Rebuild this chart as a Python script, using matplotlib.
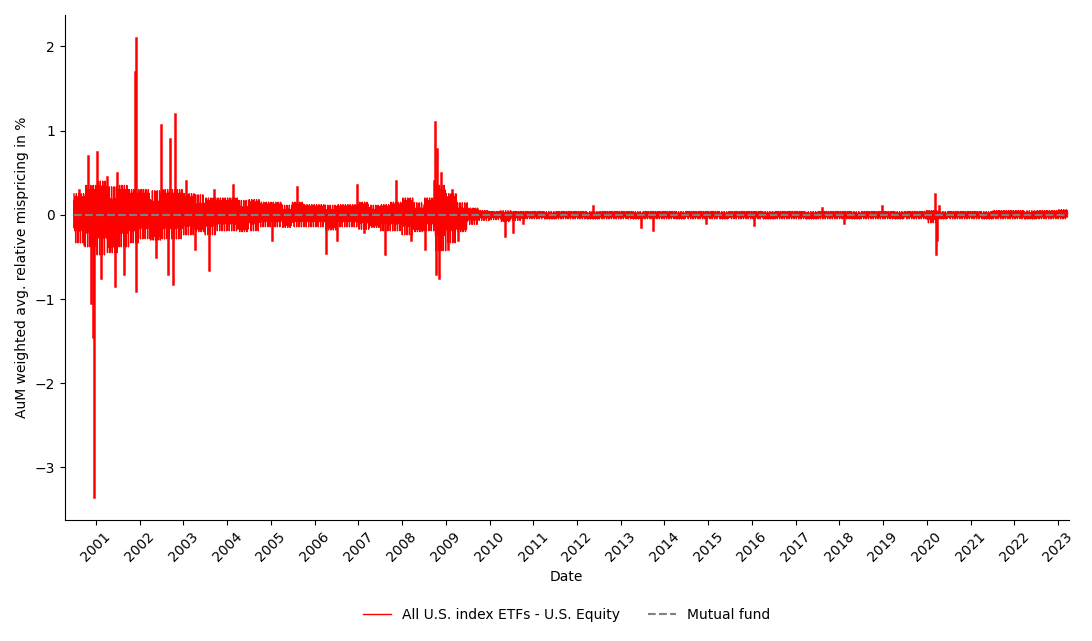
import numpy as np
import pandas as pd
from matplotlib import pyplot as plt
import matplotlib.dates as mdates

# typical quarterly band (upper / lower), 2000Q3 .. 2023Q1
band_hi = [0.25, 0.35,
           0.4, 0.35, 0.35, 0.3,
           0.3, 0.3, 0.3, 0.3,
           0.25, 0.25, 0.2, 0.2,
           0.2, 0.18, 0.18, 0.15,
           0.15, 0.12, 0.15, 0.12,
           0.12, 0.12, 0.12, 0.12,
           0.15, 0.12, 0.12, 0.15,
           0.2, 0.15, 0.2, 0.35,
           0.25, 0.15, 0.08, 0.05,
           0.04, 0.05, 0.04, 0.04] + [0.04] * 36 + [0.05, 0.04, 0.04, 0.04,
           0.04, 0.04, 0.05, 0.05,
           0.05, 0.05, 0.05, 0.05,
           0.06]
band_lo = [-0.35, -0.4,
           -0.5, -0.45, -0.4, -0.35,
           -0.3, -0.3, -0.3, -0.3,
           -0.25, -0.2, -0.25, -0.2,
           -0.2, -0.2, -0.2, -0.15,
           -0.15, -0.15, -0.15, -0.15,
           -0.15, -0.18, -0.15, -0.15,
           -0.18, -0.15, -0.2, -0.2,
           -0.25, -0.2, -0.2, -0.45,
           -0.35, -0.2, -0.12, -0.07,
           -0.06, -0.08, -0.07, -0.05] + [-0.05] * 36 + [-0.1, -0.05, -0.05, -0.05,
           -0.05, -0.05, -0.05, -0.05,
           -0.05, -0.05, -0.05, -0.05,
           -0.05]

# individual spikes (date, value in %)
spike_dates = ['2000-08-10', '2000-09-20', '2000-10-25', '2000-11-20', '2000-12-05', '2000-12-12',
               '2001-01-10', '2001-02-15', '2001-04-05', '2001-06-10', '2001-06-25',
               '2001-08-20', '2001-11-20', '2001-11-28', '2001-12-03', '2002-01-10',
               '2002-05-20', '2002-06-25', '2002-08-25', '2002-09-15', '2002-10-05',
               '2002-10-20', '2003-01-20', '2003-04-10', '2003-08-05', '2003-09-10',
               '2004-02-15', '2005-01-10', '2005-08-10', '2006-04-05', '2006-07-10',
               '2006-12-20', '2007-02-20', '2007-08-15', '2007-11-10', '2008-03-15',
               '2008-07-15', '2008-09-20', '2008-09-29', '2008-10-08', '2008-10-20',
               '2008-11-05', '2008-11-25', '2009-01-15', '2009-02-20', '2009-04-10',
               '2010-05-07', '2010-07-15', '2010-10-10', '2012-05-10', '2013-06-20',
               '2013-09-25', '2014-12-10', '2016-01-20', '2017-08-10', '2018-02-06',
               '2018-12-20', '2020-03-10', '2020-03-16', '2020-03-24', '2020-04-15']
spike_vals = [0.3, -0.35, 0.7, -1.05, -1.45, -3.35,
              0.75, -0.75, 0.45, -0.85, 0.5,
              -0.7, 1.7, 2.1, -0.9, 0.3,
              -0.5, 1.07, -0.7, 0.9, -0.82,
              1.2, 0.4, -0.4, -0.65, 0.3,
              0.35, -0.3, 0.33, -0.45, -0.3,
              0.35, -0.2, -0.47, 0.4, -0.3,
              -0.4, 0.4, 1.1, -0.7, 0.78,
              -0.75, 0.5, -0.4, 0.3, -0.3,
              -0.25, -0.2, -0.1, 0.1, -0.15,
              -0.18, -0.1, -0.12, 0.08, -0.1,
              0.1, 0.25, -0.47, -0.3, 0.1]

starts = pd.date_range('2000-07-01', periods=len(band_hi), freq='QS')
ends = list(starts[1:]) + [pd.Timestamp('2023-03-25')]
pattern = [1.0, 0.45, 0.7, 0.3, 0.85, 0.55, 0.4, 0.95, 0.6, 0.35]

fig, ax = plt.subplots(figsize=(10.92, 6.41), dpi=100)
# dense band as a zigzag inside each quarter's envelope
zx, zy = [], []
k = 0
for s, e, h, l in zip(starts, ends, band_hi, band_lo):
    wk = pd.date_range(s, e, freq='2D')[:-1]
    for i, d in enumerate(wk):
        zx.append(d)
        m = pattern[k % len(pattern)]
        k += 1
        zy.append(h * m if i % 2 == 0 else l * m)
ax.plot(zx, zy, color='red', lw=1.0, label='All U.S. index ETFs - U.S. Equity')
for d, v in zip(pd.to_datetime(spike_dates), spike_vals):
    ax.plot([d, d], [0, v], color='red', lw=1.8)
ax.plot([pd.Timestamp('2000-07-01'), pd.Timestamp('2023-03-25')], [0, 0], '--',
        color='gray', label='Mutual fund')
ax.set_xlim(pd.Timestamp('2000-04-15'), pd.Timestamp('2023-04-01'))
ax.xaxis.set_major_locator(mdates.YearLocator())
ax.xaxis.set_major_formatter(mdates.DateFormatter('%Y'))
plt.setp(ax.get_xticklabels(), rotation=45)
ax.spines['top'].set_visible(False)
ax.spines['right'].set_visible(False)
ax.set_xlabel('Date')
ax.set_ylabel('AuM weighted avg. relative mispricing in %')
ax.legend(loc='upper center', bbox_to_anchor=(0.5, -0.15), ncol=2, frameon=False)
plt.tight_layout()
plt.savefig('out.png')
